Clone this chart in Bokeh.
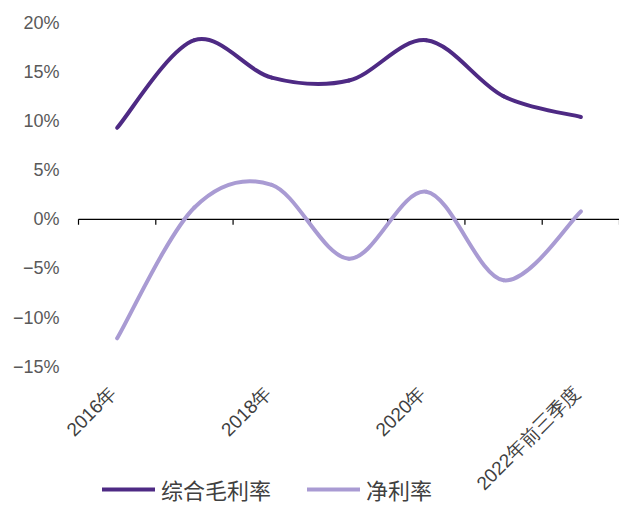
from bokeh.plotting import figure
from bokeh.models import FixedTicker, Legend, LegendItem, ColumnDataSource, Range1d
from bokeh.core.properties import value
from bokeh.embed import file_html
from bokeh.resources import INLINE
from math import pi

categories = ["2016年", "2017年", "2018年", "2019年", "2020年", "2021年", "2022年前三季度"]
gross_margin = [9.3, 18.2, 14.4, 14.1, 18.2, 12.5, 10.4]
net_margin = [-12.1, 1.2, 3.5, -4.0, 2.8, -6.2, 0.8]
y_ticks = [-15, -10, -5, 0, 5, 10, 15, 20]
shown_labels = ["2016年", "2018年", "2020年", "2022年前三季度"]

xs = list(range(1, len(categories) + 1))


def bezier_source(ys, t=1.0 / 6.0):
    n = len(ys)
    d = dict(x0=[], y0=[], x1=[], y1=[], cx0=[], cy0=[], cx1=[], cy1=[])
    for i in range(n - 1):
        p0 = (xs[max(i - 1, 0)], ys[max(i - 1, 0)])
        p1 = (xs[i], ys[i])
        p2 = (xs[i + 1], ys[i + 1])
        p3 = (xs[min(i + 2, n - 1)], ys[min(i + 2, n - 1)])
        d["x0"].append(p1[0]); d["y0"].append(p1[1])
        d["x1"].append(p2[0]); d["y1"].append(p2[1])
        d["cx0"].append(p1[0] + (p2[0] - p0[0]) * t)
        d["cy0"].append(p1[1] + (p2[1] - p0[1]) * t)
        d["cx1"].append(p2[0] - (p3[0] - p1[0]) * t)
        d["cy1"].append(p2[1] - (p3[1] - p1[1]) * t)
    return ColumnDataSource(d)


# frame runs to the bottom of the canvas so that the category labels and
# the legend (which overlap in the reference) can both sit inside it
p = figure(width=619, height=513, output_backend="svg", toolbar_location=None,
           x_range=Range1d(0.267, len(categories) + 0.5), y_range=Range1d(-29.9, 20))
p.min_border_left = 60
p.min_border_right = 0
p.min_border_top = 22
p.min_border_bottom = 0
p.outline_line_color = None
p.background_fill_color = "white"
p.border_fill_color = "white"
p.xgrid.visible = False
p.ygrid.visible = False
p.xaxis.visible = False

# y axis
p.yaxis.ticker = FixedTicker(ticks=y_ticks)
p.yaxis.major_label_overrides = {v: f"{v}%".replace("-", "\u2212") for v in y_ticks}
p.yaxis.axis_line_color = None
p.yaxis.major_tick_line_color = None
p.yaxis.minor_tick_line_color = None
p.yaxis.major_tick_out = 0
p.yaxis.major_tick_in = 0
p.yaxis.major_label_text_font = "Liberation Sans"
p.yaxis.major_label_text_font_size = "18px"
p.yaxis.major_label_text_color = "#595959"
p.yaxis.major_label_standoff = 1

# zero line with category boundary ticks
bounds = [x + 0.5 for x in range(0, len(categories) + 1)]
p.segment(x0=[bounds[0]], y0=[0], x1=[bounds[-1]], y1=[0],
          line_color="#000000", line_width=1.2)
p.segment(x0=bounds, y0=[0] * len(bounds), x1=bounds, y1=[-0.55] * len(bounds),
          line_color="#000000", line_width=1.2)

# category labels (every other category), rotated 45 degrees below the plot
label_pos = [categories.index(c) + 1 for c in shown_labels]
p.text(x=label_pos, y=[-17.3] * len(label_pos), text=shown_labels, angle=pi / 4,
       x_offset=-4, text_align="right", text_baseline="middle",
       text_font=value("Liberation Sans"), text_font_size="19px", text_color="#404040")

r1 = p.bezier(x0="x0", y0="y0", x1="x1", y1="y1", cx0="cx0", cy0="cy0", cx1="cx1", cy1="cy1",
              source=bezier_source(gross_margin), line_color="#4E2A84", line_width=4,
              line_cap="round")
r2 = p.bezier(x0="x0", y0="y0", x1="x1", y1="y1", cx0="cx0", cy0="cy0", cx1="cx1", cy1="cy1",
              source=bezier_source(net_margin), line_color="#A99BD3", line_width=4,
              line_cap="round")

legend = Legend(items=[LegendItem(label="综合毛利率", renderers=[r1]),
                       LegendItem(label="净利率", renderers=[r2])],
                orientation="horizontal", location=(42, 8),
                background_fill_alpha=0, border_line_color=None,
                label_text_font="Noto Sans CJK SC", label_text_font_size="22px",
                label_text_color="#404040", glyph_width=53, glyph_height=10,
                spacing=36, label_standoff=6, padding=0, margin=0)
p.add_layout(legend, "center")

open("out.html", "w").write(file_html(p, INLINE))
